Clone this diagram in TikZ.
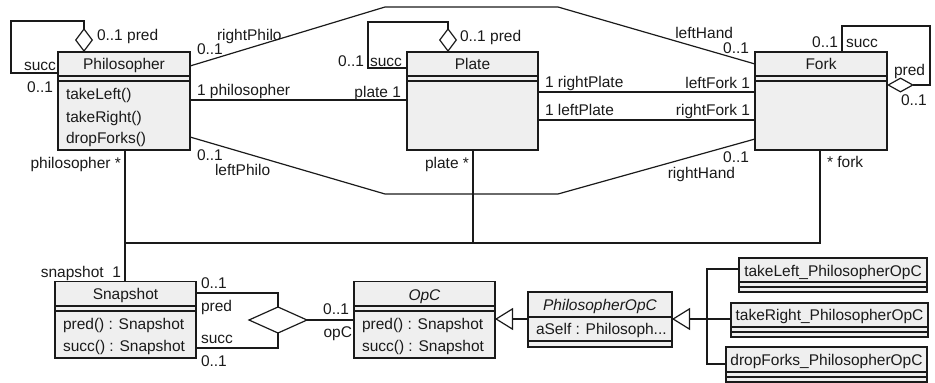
\documentclass[tikz,border=0pt]{standalone}
\usepackage{fontspec}
\setmainfont{Liberation Sans}
\usetikzlibrary{arrows.meta,shapes.geometric,calc}
\definecolor{boxfill}{HTML}{EFEFEF}
\definecolor{ink}{HTML}{1A1A1A}
\newcommand\umlsep[2]{\draw[draw=ink,line width=1.2pt] ([yshift=-#2pt]#1.north west) -- ([yshift=-#2pt]#1.north east);}
\begin{document}
\begin{tikzpicture}[x=1pt,y=-1pt,
  every node/.style={font=\fontsize{15.5}{18}\selectfont, text=ink, inner sep=0pt, outer sep=0pt},
  lbl/.style={text height=11pt, text depth=0pt},
  box/.style={draw=ink, fill=boxfill, line width=1.2pt, anchor=north west},
  conn/.style={draw=ink, line width=1.2pt},
  aggr/.style={conn, {Diamond[open, length=24pt, width=18pt]}-},
  gen/.style={conn, -{Triangle[open, length=18pt, width=22pt]}},
]
\useasboundingbox (0,0) rectangle (935,383);

% ---------- class boxes ----------
\node[box, minimum width=132pt, minimum height=98pt] (phil) at (58,52) {};
\node[box, minimum width=131pt, minimum height=98pt] (plate) at (407,52) {};
\node[box, minimum width=132pt, minimum height=98pt] (fork) at (755,52) {};
\node[box, minimum width=141pt, minimum height=76.5pt] (snap) at (55,281.5) {};
\node[box, minimum width=141pt, minimum height=76.5pt] (opc) at (354,281.5) {};
\node[box, minimum width=144pt, minimum height=55pt] (pop) at (528,292) {};
\node[box, minimum width=188pt, minimum height=34pt] (tl) at (739,258) {};
\node[box, minimum width=197pt, minimum height=34pt] (tr) at (731,303) {};
\node[box, minimum width=201pt, minimum height=35pt] (df) at (726,347) {};

\umlsep{phil}{24}\umlsep{phil}{29}
\umlsep{plate}{24}\umlsep{plate}{29}
\umlsep{fork}{24}\umlsep{fork}{29}
\umlsep{snap}{24.5}\umlsep{snap}{29.5}
\umlsep{opc}{24.5}\umlsep{opc}{29.5}
\umlsep{pop}{25}\umlsep{pop}{49}
\umlsep{tl}{24}\umlsep{tl}{29}
\umlsep{tr}{24}\umlsep{tr}{29}
\umlsep{df}{25}\umlsep{df}{30}

% ---------- class texts ----------
\node[lbl] (tphil) at (124,64) {Philosopher};
\node[lbl,anchor=west] (op1) at (66,94) {takeLeft()};
\node[lbl,anchor=west] (op2) at (66,117) {takeRight()};
\node[lbl,anchor=west] (op3) at (66,138) {dropForks()};
\node[lbl] (tplate) at (472.5,64) {Plate};
\node[lbl] (tfork) at (821,64) {Fork};
\node[lbl] (tsnap) at (125.5,294) {Snapshot};
\node[lbl,anchor=west] (op4) at (63,324) {pred() : Snapshot};
\node[lbl,anchor=west] (op5) at (63,346) {succ() : Snapshot};
\node[lbl] (topc) at (424.5,295) {\itshape OpC};
\node[lbl,anchor=west] (op6) at (362,324) {pred() : Snapshot};
\node[lbl,anchor=west] (op7) at (362,346) {succ() : Snapshot};
\node[lbl] (tpop) at (600,305) {\itshape PhilosopherOpC};
\node[lbl,anchor=west] (at1) at (536,329) {aSelf : Philosoph...};
\node[lbl] (ttl) at (833,271) {takeLeft\_PhilosopherOpC};
\node[lbl] (ttr) at (829.5,315) {takeRight\_PhilosopherOpC};
\node[lbl] (tdf) at (826.5,360) {dropForks\_PhilosopherOpC};

% ---------- connectors ----------
\draw[aggr] ($(phil.north west)+(26,0)$) |- (11,21) |- ($(phil.north west)+(0,21)$);
\draw[aggr] ($(plate.north west)+(41,0)$) |- (368,22) |- ($(plate.north west)+(0,16)$);
\draw[conn, {Diamond[open, length=27pt, width=15pt]}-] ($(fork.north east)+(0,33)$) -| (930,26) -| ($(fork.north west)+(87,0)$);

\draw[conn] ($(phil.north east)+(0,14)$) -- (385,7) -- (558,7) -- ($(fork.north west)+(0,12)$);
\draw[conn] ($(phil.north east)+(0,85)$) -- (385,194) -- (558,194) -- ($(fork.north west)+(0,87)$);
\draw[conn] ($(phil.north east)+(0,48)$) -- ($(plate.north west)+(0,48)$);
\draw[conn] ($(plate.north east)+(0,40)$) -- ($(fork.north west)+(0,40)$);
\draw[conn] ($(plate.north east)+(0,68)$) -- ($(fork.north west)+(0,68)$);

\draw[conn] ($(phil.south west)+(67,0)$) -- ($(snap.north west)+(70,0)$);
\draw[conn] ($(plate.south west)+(66,0)$) |- (125,243);
\draw[conn] ($(fork.south west)+(65,0)$) |- (473,243);

\node[draw=ink, line width=1.2pt, diamond, minimum width=58pt, minimum height=26pt] (agg) at (278,320) {};
\draw[conn] ($(snap.north east)+(0,11.5)$) -| (agg.north);
\draw[conn] ($(snap.north east)+(0,66.5)$) -| (agg.south);
\draw[conn] (agg.east) -- (opc.west |- agg.east);

\draw[gen] ($(pop.north west)+(0,27)$) -- ($(opc.north east)+(0,37.5)$);
\coordinate (trunk) at (707,319);
\draw[gen] (trunk) -- ($(pop.north east)+(0,27)$);
\draw[conn] ($(tl.north west)+(0,11)$) -| (trunk);
\draw[conn] ($(tr.north west)+(0,16)$) -- (trunk);
\draw[conn] ($(df.north west)+(0,17)$) -| (trunk);

% ---------- role labels ----------
\node[lbl,anchor=west] (r1) at (97,35) {0..1 pred};
\node[lbl,anchor=east] (r2) at (56,65) {succ};
\node[lbl,anchor=east] (r3) at (53,87) {0..1};
\node[lbl,anchor=west] (r4) at (217,35) {rightPhilo};
\node[lbl,anchor=west] (r5) at (197,49) {0..1};
\node[lbl,anchor=west] (r6) at (197,90) {1 philosopher};
\node[lbl,anchor=west] (r7) at (197,155) {0..1};
\node[lbl,anchor=west] (r8) at (215,170) {leftPhilo};
\node[lbl,anchor=east] (r9) at (121,163) {philosopher *};
\node[lbl,anchor=east] (r10) at (364,61) {0..1};
\node[lbl,anchor=west] (r11) at (370,61) {succ};
\node[lbl,anchor=west] (r12) at (460,36) {0..1 pred};
\node[lbl,anchor=east] (r13) at (401,92) {plate 1};
\node[lbl,anchor=west] (r14) at (545,82) {1 rightPlate};
\node[lbl,anchor=west] (r15) at (545,110) {1 leftPlate};
\node[lbl,anchor=east] (r16) at (469,163) {plate *};
\node[lbl,anchor=east] (r17) at (733,33) {leftHand};
\node[lbl,anchor=east] (r18) at (749,48) {0..1};
\node[lbl,anchor=east] (r19) at (750,83) {leftFork 1};
\node[lbl,anchor=east] (r20) at (750,110) {rightFork 1};
\node[lbl,anchor=east] (r21) at (749,157) {0..1};
\node[lbl,anchor=east] (r22) at (735,173) {rightHand};
\node[lbl,anchor=east] (r23) at (838,42) {0..1};
\node[lbl,anchor=west] (r24) at (846,42) {succ};
\node[lbl,anchor=west] (r25) at (894,70) {pred};
\node[lbl,anchor=west] (r26) at (901,100) {0..1};
\node[lbl,anchor=west] (r27) at (827,162) {* fork};
\node[lbl,anchor=east] (r28) at (121,272) {snapshot\ \ 1};
\node[lbl,anchor=west] (r29) at (201,283) {0..1};
\node[lbl,anchor=west] (r30) at (201,306) {pred};
\node[lbl,anchor=west] (r31) at (201,338) {succ};
\node[lbl,anchor=west] (r32) at (201,361) {0..1};
\node[lbl,anchor=east] (r33) at (349,309) {0..1};
\node[lbl,anchor=east] (r34) at (352,332) {opC};
\end{tikzpicture}
\end{document}
